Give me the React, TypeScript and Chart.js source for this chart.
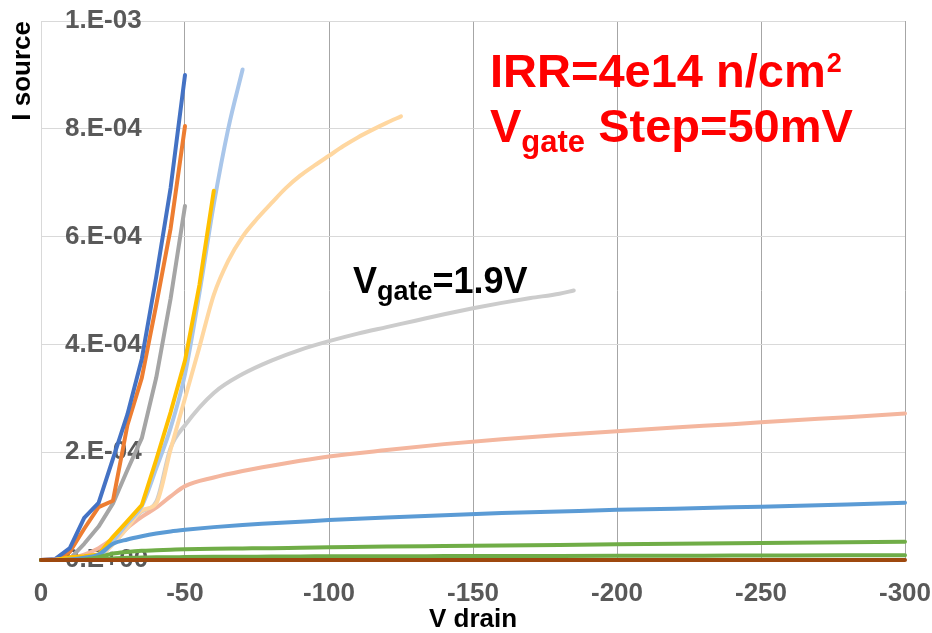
import React, { useEffect, useRef } from 'react';
import { Chart, registerables } from 'chart.js';

Chart.register(...registerables);

const FONT = '"Liberation Sans", Arial, Helvetica, sans-serif';

// Axis tick labels
const xTickLabels = ['0', '-50', '-100', '-150', '-200', '-250', '-300'];
const yTickLabels = ['0.E+00', '2.E-04', '4.E-04', '6.E-04', '8.E-04', '1.E-03'];

// Drain voltage grids (V)
const vDrain50 = [0, -5, -10, -15, -20, -25, -30, -35, -40, -45, -50];
const vDrain60 = [0, -5, -10, -15, -20, -25, -30, -35, -40, -45, -50, -55, -60];
const vDrain70 = [0, -5, -10, -15, -20, -25, -30, -35, -40, -45, -50, -55, -60, -65, -70];
const vDrain125 = [0, -5, -10, -15, -20, -25, -30, -35, -40, -45, -50, -55, -60, -65, -70, -75, -80, -85, -90, -95, -100, -105, -110, -115, -120, -125];
const vDrain185 = [0, -5, -10, -15, -20, -25, -30, -35, -40, -45, -50, -60, -70, -80, -90, -100, -110, -120, -130, -140, -150, -160, -170, -180, -185];
const vDrain300 = [0, -5, -10, -15, -20, -25, -30, -35, -40, -45, -50, -60, -70, -80, -90, -100, -120, -140, -160, -180, -200, -220, -240, -260, -280, -300];

// Source current, in units of 1e-4 A
const iDarkBlue = [0, 0.02, 0.22, 0.78, 1.06, 1.88, 2.7, 3.73, 5.25, 6.9, 9.0];
const iOrange = [0, 0.01, 0.15, 0.58, 0.98, 1.1, 2.5, 3.38, 4.73, 6.15, 8.05];
const iGray = [0, 0, 0.02, 0.3, 0.62, 1.05, 1.67, 2.26, 3.38, 4.85, 6.57];
const iGold = [0, 0, 0.05, 0.07, 0.1, 0.43, 0.72, 1.02, 1.86, 2.74, 3.7, 5.1, 6.85];
const iLightBlue = [0, 0, 0.02, 0.04, 0.07, 0.35, 0.68, 1.0, 1.7, 2.45, 3.45, 4.95, 6.6, 8.0, 9.1];
const iPeach = [0, 0, 0.02, 0.04, 0.06, 0.3, 0.6, 0.92, 1.05, 2.05, 3.0, 3.95, 4.92, 5.55, 6.0, 6.33, 6.62, 6.9, 7.13, 7.32, 7.5, 7.68, 7.84, 7.98, 8.11, 8.23];
const iGate19 = [0, 0, 0.02, 0.04, 0.06, 0.3, 0.6, 0.9, 1.08, 2.08, 2.5, 3.1, 3.45, 3.7, 3.9, 4.06, 4.2, 4.32, 4.44, 4.56, 4.67, 4.77, 4.86, 4.94, 5.0];
const iSalmon = [0, 0.01, 0.03, 0.1, 0.22, 0.4, 0.6, 0.8, 0.97, 1.18, 1.37, 1.53, 1.65, 1.75, 1.84, 1.92, 2.04, 2.15, 2.24, 2.32, 2.39, 2.46, 2.52, 2.59, 2.65, 2.72];
const iBlue = [0, 0, 0.01, 0.04, 0.1, 0.3, 0.38, 0.44, 0.49, 0.53, 0.56, 0.61, 0.65, 0.68, 0.71, 0.74, 0.79, 0.83, 0.87, 0.9, 0.93, 0.95, 0.98, 1.0, 1.03, 1.06];
const iGreen = [0, 0, 0, 0.01, 0.05, 0.12, 0.15, 0.17, 0.18, 0.19, 0.2, 0.21, 0.215, 0.22, 0.228, 0.235, 0.25, 0.26, 0.27, 0.28, 0.29, 0.3, 0.31, 0.32, 0.33, 0.34];
const iGreenLow = [0, 0, 0, 0, 0.01, 0.03, 0.04, 0.045, 0.05, 0.05, 0.055, 0.06, 0.06, 0.065, 0.065, 0.07, 0.07, 0.072, 0.074, 0.076, 0.078, 0.08, 0.082, 0.084, 0.086, 0.088];
const iBrown = [0, 0, 0, 0, 0, 0, 0, 0, 0, 0, 0, 0, 0, 0, 0, 0, 0, 0, 0, 0, 0, 0, 0, 0, 0, 0];

const noteLine1 = 'IRR=4e14 n/cm';
const noteSup = '2';
const noteV = 'V';
const noteSub = 'gate';
const noteLine2 = ' Step=50mV';
const curveLabelRest = '=1.9V';

export default function App() {
  const ref = useRef<HTMLCanvasElement | null>(null);

  useEffect(() => {
    if (!ref.current) return;
    const zip = (xs: number[], ys: number[]) => ys.map((y, i) => ({ x: xs[i], y }));
    const mk = (label: string, xs: number[], ys: number[], color: string, smooth = false) => ({
      label,
      data: zip(xs, ys),
      borderColor: color,
      backgroundColor: color,
      borderWidth: 4,
      pointRadius: 0,
      pointHoverRadius: 0,
      fill: false,
      tension: smooth ? 0.4 : 0,
      cubicInterpolationMode: smooth ? ('monotone' as const) : ('default' as const),
      borderCapStyle: 'round' as const,
      borderJoinStyle: 'round' as const,
      clip: 8,
    });

    const annot = {
      id: 'annot',
      afterDatasetsDraw(chart: any) {
        const ctx = chart.ctx as CanvasRenderingContext2D;
        ctx.save();
        ctx.textAlign = 'left';
        ctx.textBaseline = 'alphabetic';
        // red notes
        ctx.fillStyle = '#FF0000';
        ctx.font = `bold 47px ${FONT}`;
        ctx.fillText(noteLine1, 490, 87);
        const w1 = ctx.measureText(noteLine1).width;
        ctx.font = `bold 27px ${FONT}`;
        ctx.fillText(noteSup, 490 + w1 + 1, 72);
        ctx.font = `bold 47px ${FONT}`;
        ctx.fillText(noteV, 490, 142);
        const wv = ctx.measureText(noteV).width;
        ctx.font = `bold 31px ${FONT}`;
        ctx.fillText(noteSub, 490 + wv, 152);
        const wg = ctx.measureText(noteSub).width;
        ctx.font = `bold 47px ${FONT}`;
        ctx.fillText(noteLine2, 490 + wv + wg, 142);
        // curve label
        ctx.fillStyle = '#000000';
        ctx.font = `bold 36px ${FONT}`;
        ctx.fillText(noteV, 353, 293);
        const wv2 = ctx.measureText(noteV).width;
        ctx.font = `bold 27px ${FONT}`;
        ctx.fillText(noteSub, 353 + wv2, 300);
        const wg2 = ctx.measureText(noteSub).width;
        ctx.font = `bold 36px ${FONT}`;
        ctx.fillText(curveLabelRest, 353 + wv2 + wg2, 293);
        ctx.restore();
      },
    };

    const tickFont = { family: FONT, size: 26, weight: 'bold' as const, lineHeight: 1 };

    const chart = new Chart(ref.current, {
      type: 'line',
      data: {
        datasets: [
          mk('brown', vDrain300, iBrown, '#9E480E'),
          mk('green2', vDrain300, iGreenLow, '#6EAC48', true),
          mk('green', vDrain300, iGreen, '#70AD47', true),
          mk('blue', vDrain300, iBlue, '#5B9BD5', true),
          mk('gold', vDrain60, iGold, '#FFC000'),
          mk('lightblue', vDrain70, iLightBlue, '#A9C6EA', true),
          mk('peach', vDrain125, iPeach, '#FFD7A0', true),
          mk('salmon', vDrain300, iSalmon, '#F4B69E', true),
          mk('Vgate=1.9V', vDrain185, iGate19, '#CCCCCC', true),
          mk('darkblue', vDrain50, iDarkBlue, '#4472C4'),
          mk('orange', vDrain50, iOrange, '#ED7D31'),
          mk('gray', vDrain50, iGray, '#A5A5A5'),
        ],
      },
      options: {
        responsive: false,
        animation: false,
        devicePixelRatio: 1,
        layout: { padding: { top: 21, right: 27, bottom: 0, left: 0 } },
        plugins: {
          legend: { display: false },
          tooltip: { enabled: false },
        },
        scales: {
          x: {
            type: 'linear',
            min: -300,
            max: 0,
            reverse: true,
            ticks: {
              stepSize: 50,
              padding: 21,
              color: '#595959',
              font: tickFont,
              maxRotation: 0,
              autoSkip: false,
              callback: (v: any) => xTickLabels[Math.round(-Number(v) / 50)] ?? '',
            },
            grid: {
              drawTicks: false,
              lineWidth: 1,
              color: (c: any) => (c.tick && c.tick.value === 0 ? 'rgba(0,0,0,0)' : '#A6A6A6'),
            },
            border: { display: true, color: '#D9D9D9', width: 1 },
            title: {
              display: true,
              text: 'V drain',
              color: '#000000',
              font: { family: FONT, size: 26, weight: 'bold', lineHeight: 1 },
              padding: 0,
            },
            afterFit: (s: any) => {
              s.height = 73;
              s.paddingLeft = 0;
              s.paddingRight = 0;
            },
          },
          y: {
            type: 'linear',
            min: 0,
            max: 10,
            ticks: {
              stepSize: 2,
              mirror: true,
              padding: 24,
              color: '#595959',
              font: tickFont,
              callback: (v: any) => yTickLabels[Math.round(Number(v) / 2)] ?? '',
            },
            grid: { drawTicks: false, lineWidth: 1, color: '#D9D9D9' },
            border: { display: true, color: '#D9D9D9', width: 1 },
            title: {
              display: true,
              text: 'I source',
              align: 'end',
              color: '#000000',
              font: { family: FONT, size: 26, weight: 'bold', lineHeight: 1 },
              padding: { top: 10, bottom: 0 },
            },
            afterFit: (s: any) => {
              s.width = 41;
              s.paddingTop = 0;
              s.paddingBottom = 0;
            },
          },
        },
      },
      plugins: [annot],
    } as any);

    return () => chart.destroy();
  }, []);

  return (
    <div style={{ position: 'fixed', left: 0, top: 0, width: 932, height: 633, background: '#ffffff' }}>
      <canvas ref={ref} width={932} height={633} style={{ display: 'block', width: 932, height: 633 }} />
    </div>
  );
}
